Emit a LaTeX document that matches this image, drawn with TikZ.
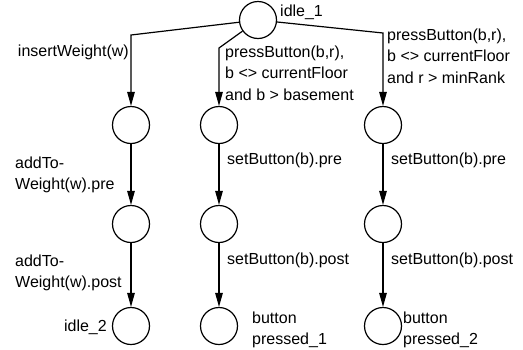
\documentclass[tikz,border=0pt]{standalone}
\usepackage{fontspec}
\setmainfont{Liberation Sans}
\usetikzlibrary{arrows.meta}
\tikzset{
	state/.style={circle, draw, line width=1.2pt, minimum size=37pt, inner sep=0pt},
	trans/.style={line width=1.2pt, -{Triangle[length=14pt, width=7.5pt]}},
	lbl/.style={inner sep=0pt, align=left, font=\fontsize{16}{21.5}\selectfont}
}

\begin{document}
\begin{tikzpicture}[x=1pt, y=-1pt]
			%%%%% START %%%%%
			\useasboundingbox (0, 0) rectangle (523, 349);
			
			\node[state] (idle1) at (258, 20) {};
			\node[lbl, anchor=base west] (lidle1) at (280, 16) {idle\_1};
			
			\node[state] (w1) at (131, 125) {};
			\node[state] (w2) at (131, 224) {};
			\node[state] (idle2) at (131, 326) {};
			
			\node[state] (p1) at (219, 125) {};
			\node[state] (p2) at (219, 224) {};
			\node[state] (pressed1) at (219, 326) {};
			
			\node[state] (q1) at (383, 125) {};
			\node[state] (q2) at (383, 224) {};
			\node[state] (pressed2) at (383, 326) {};
			
			\coordinate (bendw) at (131, 35);
			\coordinate (bendp) at (219, 48);
			\coordinate (bendq) at (383, 33);
			
			\draw[trans] (idle1) -- (bendw) -- (w1);
			\draw[trans] (idle1) -- (bendp) -- (p1);
			\draw[trans] (idle1) -- (bendq) -- (q1);
			
			\draw[trans] (w1) -- (w2);
			\draw[trans] (w2) -- (idle2);
			\draw[trans] (p1) -- (p2);
			\draw[trans] (p2) -- (pressed1);
			\draw[trans] (q1) -- (q2);
			\draw[trans] (q2) -- (pressed2);
			
			\node[lbl, anchor=base east] (linsert) at (129, 56) {insertWeight(w)};
			\node[lbl, anchor=north west] (lpress1) at (225, 45.5) {pressButton(b,r),\\b <> currentFloor\\and b > basement};
			\node[lbl, anchor=north west] (lpress2) at (387, 28.5) {pressButton(b,r),\\b <> currentFloor\\and r > minRank};
			
			\node[lbl, anchor=north west] (laddpre) at (15, 156.5) {addTo-\\Weight(w).pre};
			\node[lbl, anchor=base west] (lsetpre1) at (227, 164) {setButton(b).pre};
			\node[lbl, anchor=base west] (lsetpre2) at (391, 164) {setButton(b).pre};
			
			\node[lbl, anchor=north west] (laddpost) at (15, 254.5) {addTo-\\Weight(w).post};
			\node[lbl, anchor=base west] (lsetpost1) at (227, 264) {setButton(b).post};
			\node[lbl, anchor=base west] (lsetpost2) at (391, 264) {setButton(b).post};
			
			\node[lbl, anchor=base east] (lidle2) at (107, 331) {idle\_2};
			\node[lbl, anchor=north west] (lpressed1) at (252, 311.5) {button\\pressed\_1};
			\node[lbl, anchor=north west] (lpressed2) at (403, 311.5) {button\\pressed\_2};
			
			%%%%% END %%%%%
		\end{tikzpicture}
\end{document}
